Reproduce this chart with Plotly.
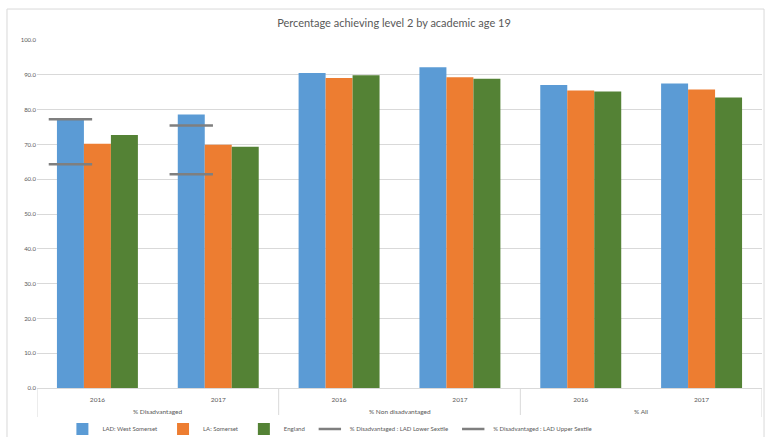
import plotly.graph_objects as go

# Category hierarchy
group_names = ["% Disadvantaged", "% Non disadvantaged", "% All"]
years = ["2016", "2017", "2016", "2017", "2016", "2017"]
per_group = 2

# Series values (percent)
west_somerset = [77.3, 78.6, 90.5, 92.2, 87.1, 87.5]
somerset = [70.2, 69.9, 89.1, 89.3, 85.5, 85.8]
england = [72.7, 69.3, 89.9, 88.9, 85.2, 83.5]
lower_sextile = [64.3, 61.4, None, None, None, None]
upper_sextile = [77.2, 75.4, None, None, None, None]

y_ticks = [0, 10, 20, 30, 40, 50, 60, 70, 80, 90, 100]

FONT = "Lato, 'Open Sans', sans-serif"
TXT = "#595959"
GRID = "#d9d9d9"
BAR_GAP = 0.33
n_series = 3
bar_w = (1 - BAR_GAP) / n_series

W, H = 765, 437
M = dict(l=37, r=3, t=40, b=49)
plot_h = H - M["t"] - M["b"]

idx = list(range(len(years)))

fig = go.Figure()
for name, vals, col in [("LAD: West Somerset", west_somerset, "#5b9bd5"),
                        ("LA: Somerset", somerset, "#ed7d31"),
                        ("England", england, "#548235")]:
    fig.add_trace(go.Bar(x=idx, y=vals, name=name, marker_color=col,
                         marker_line_width=0))

# Sextile markers sit over the first (blue) bar of each category
x_sext = [i - bar_w for i in idx]
for name, vals in [("% Disadvantaged : LAD Lower Sextile", lower_sextile),
                   ("% Disadvantaged : LAD Upper Sextile", upper_sextile)]:
    fig.add_trace(go.Scatter(x=x_sext, y=vals, name=name, mode="markers",
                             marker=dict(symbol="line-ew", size=31,
                                         line=dict(width=2.5, color="#7f7f7f"))))

# Two-level category axis: group dividers and group labels
div_bottom = -29 / plot_h
shapes = []
for g in range(len(group_names) + 1):
    xd = g * per_group - 0.5
    shapes.append(dict(type="line", xref="x", yref="paper", x0=xd, x1=xd,
                       y0=0, y1=div_bottom, line=dict(color=GRID, width=1)))
annotations = []
for g, gname in enumerate(group_names):
    xc = g * per_group + (per_group - 1) / 2
    annotations.append(dict(text=gname, xref="x", yref="paper", x=xc,
                            y=-24 / plot_h, showarrow=False,
                            xanchor="center", yanchor="middle",
                            font=dict(size=6.5, color=TXT, family=FONT)))

# Outer chart border
shapes.append(dict(type="rect", xref="paper", yref="paper",
                   x0=-0.0414, x1=1.0028, y0=-0.2, y1=1.089,
                   line=dict(color=GRID, width=1), layer="below"))

fig.update_layout(
    width=W, height=H,
    margin=dict(**M, autoexpand=False),
    paper_bgcolor="white", plot_bgcolor="white",
    barmode="group", bargap=BAR_GAP, bargroupgap=0,
    font=dict(family=FONT, color=TXT, size=6),
    title=dict(text="Percentage achieving level 2 by academic age 19",
               x=0.515, xanchor="center", y=0.948, yanchor="middle",
               font=dict(size=11, color=TXT, family=FONT)),
    xaxis=dict(range=[-0.5, len(years) - 0.5], automargin=False,
               tickvals=idx, ticktext=years, showgrid=False, zeroline=False,
               showline=True, linecolor=GRID, linewidth=1,
               tickfont=dict(size=6.5, color=TXT), ticks="",
               ticklabelstandoff=5),
    yaxis=dict(range=[0, 100], tickvals=y_ticks, tickformat=".1f",
               automargin=False,
               showgrid=True, gridcolor=GRID, gridwidth=1, zeroline=False,
               tickfont=dict(size=6, color=TXT), ticks="", ticklen=0),
    legend=dict(orientation="h", x=0.404, xanchor="center", y=-0.118,
                yanchor="middle", font=dict(size=6, color=TXT),
                itemwidth=30, tracegroupgap=0),
    shapes=shapes,
    annotations=annotations,
)

fig.write_html("out.html")
